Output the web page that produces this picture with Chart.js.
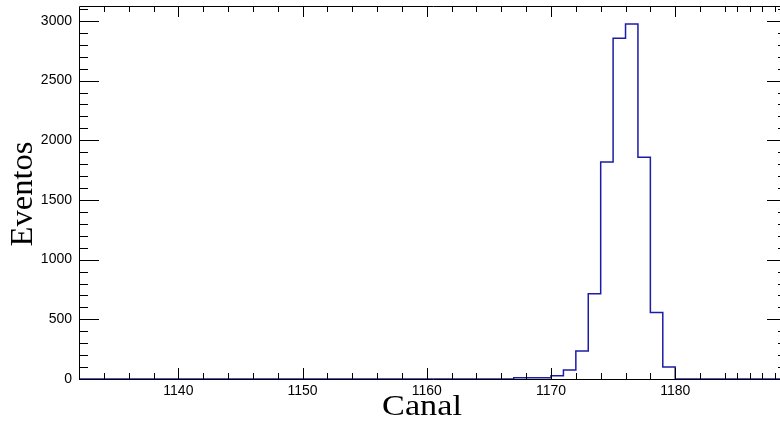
<!DOCTYPE html>
<html>
<head>
<meta charset="utf-8">
<script src="https://cdn.jsdelivr.net/npm/chart.js@4.4.1/dist/chart.umd.min.js"></script>
<style>
  html, body { margin: 0; padding: 0; background: #fff; overflow: hidden; }
  #wrap { width: 790px; height: 426px; }
</style>
</head>
<body>
<div id="wrap"><canvas id="spectrum"></canvas></div>
<script>
// lower edge of every channel bin (width 1)
const channels = [
    1132, 1133, 1134, 1135, 1136, 1137, 1138, 1139, 1140, 1141,
    1142, 1143, 1144, 1145, 1146, 1147, 1148, 1149, 1150, 1151,
    1152, 1153, 1154, 1155, 1156, 1157, 1158, 1159, 1160, 1161,
    1162, 1163, 1164, 1165, 1166, 1167, 1168, 1169, 1170, 1171,
    1172, 1173, 1174, 1175, 1176, 1177, 1178, 1179, 1180, 1181,
    1182, 1183, 1184, 1185, 1186, 1187, 1188
];
const upperEdge = 1189;

// counts per channel
const events = [
    0, 0, 0, 0, 0, 0, 0, 0, 0, 0,
    0, 0, 0, 0, 0, 0, 0, 0, 0, 0,
    0, 0, 0, 0, 0, 0, 0, 0, 0, 0,
    0, 0, 0, 0, 0, 10, 10, 10, 28, 75,
    235, 715, 1818, 2855, 2975, 1858, 558, 100, 0, 0,
    0, 0, 0, 0, 0, 0, 0
];

const xMajorTicks = [1140, 1150, 1160, 1170, 1180];
const yMajorTicks = [0, 500, 1000, 1500, 2000, 2500, 3000];

const xMin = 1132, xMax = upperEdge;
const yMin = 0, yMax = 3125;

const points = channels.map((c, i) => ({ x: c, y: events[i] }));
points.push({ x: upperEdge, y: events[events.length - 1] });

// ROOT-like frame: box with inward ticks on all four sides, plus axis titles
const frame = {
    id: "frame",
    afterDatasetsDraw(chart) {
        const { ctx, chartArea: a, scales: { x, y } } = chart;
        ctx.save();
        ctx.strokeStyle = "#000";
        ctx.lineWidth = 1;
        ctx.beginPath();
        ctx.rect(a.left + 0.5, a.top + 0.5, a.right - a.left, a.bottom - a.top);

        const xTick = (v, len) => {
            const px = Math.round(x.getPixelForValue(v)) + 0.5;
            ctx.moveTo(px, a.bottom); ctx.lineTo(px, a.bottom - len);
            ctx.moveTo(px, a.top); ctx.lineTo(px, a.top + len);
        };
        const yTick = (v, len) => {
            const py = Math.round(y.getPixelForValue(v)) + 0.5;
            ctx.moveTo(a.left, py); ctx.lineTo(a.left + len, py);
            ctx.moveTo(a.right, py); ctx.lineTo(a.right - len, py);
        };

        for (let v = 1134; v <= 1184; v += 2) xTick(v, xMajorTicks.includes(v) ? 11 : 6);
        for (let v = 1185; v <= 1188; v++) xTick(v, 6);
        for (let v = 0; v <= yMax; v += 100) yTick(v, v % 500 === 0 ? 20 : 9);
        ctx.stroke();

        // axis titles
        ctx.fillStyle = "#000";
        ctx.textAlign = "center";
        ctx.textBaseline = "alphabetic";

        ctx.save();
        ctx.font = "29px 'Liberation Serif', 'Times New Roman', serif";
        ctx.translate(422, 415);
        ctx.scale(1.18, 1);
        ctx.fillText("Canal", 0, 0);
        ctx.restore();

        ctx.save();
        ctx.font = "31px 'Liberation Serif', 'Times New Roman', serif";
        ctx.translate(32, 194);
        ctx.rotate(-Math.PI / 2);
        ctx.scale(1.05, 1);
        ctx.fillText("Eventos", 0, 0);
        ctx.restore();

        ctx.restore();
    },
};

const noEdgePadding = (s) => {
    s.paddingTop = 0;
    s.paddingBottom = 0;
    s.paddingLeft = 0;
    s.paddingRight = 0;
};

new Chart(document.getElementById("spectrum"), {
    type: "line",
    data: {
        datasets: [
            {
                data: points,
                stepped: "before",
                borderColor: "#1c1ca8",
                borderWidth: 1.5,
                pointRadius: 0,
                fill: false,
            },
        ],
    },
    options: {
        responsive: true,
        maintainAspectRatio: false,
        animation: false,
        layout: { padding: { top: 6, right: 3, left: 0, bottom: 0 } },
        plugins: {
            legend: { display: false },
            tooltip: { enabled: false },
        },
        scales: {
            x: {
                type: "linear",
                min: xMin,
                max: xMax,
                grid: { display: false, drawTicks: false },
                border: { display: false },
                afterBuildTicks: (s) => {
                    s.ticks = xMajorTicks.map((v) => ({ value: v }));
                },
                afterFit: (s) => { s.height = 47; noEdgePadding(s); },
                ticks: {
                    autoSkip: false,
                    maxRotation: 0,
                    padding: 4,
                    color: "#000",
                    font: { family: "'Liberation Sans', Arial, sans-serif", size: 14 },
                    callback: (v) => String(v),
                },
            },
            y: {
                min: yMin,
                max: yMax,
                grid: { display: false, drawTicks: false },
                border: { display: false },
                afterBuildTicks: (s) => {
                    s.ticks = yMajorTicks.map((v) => ({ value: v }));
                },
                afterFit: (s) => { s.width = 79; noEdgePadding(s); },
                ticks: {
                    padding: 7,
                    color: "#000",
                    font: { family: "'Liberation Sans', Arial, sans-serif", size: 14 },
                    callback: (v) => String(v),
                },
            },
        },
    },
    plugins: [frame],
});
</script>
</body>
</html>
